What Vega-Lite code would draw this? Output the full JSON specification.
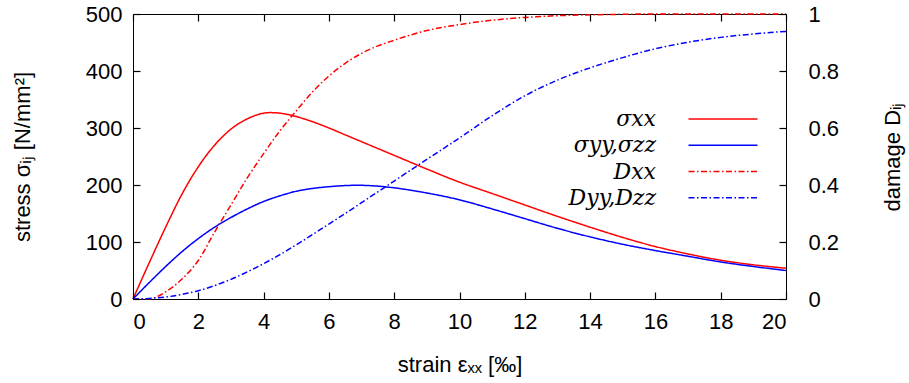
{
  "$schema": "https://vega.github.io/schema/vega-lite/v6.json",
  "width": 653,
  "height": 285,
  "autosize": {"type": "none"},
  "padding": {"left": 133, "top": 14, "right": 123, "bottom": 84},
  "background": "white",
  "config": {
    "font": "Liberation Sans",
    "view": {"stroke": "black", "strokeWidth": 1},
    "axis": {
      "labelFont": "Liberation Sans",
      "labelFontSize": 22,
      "labelColor": "black",
      "titleFont": "Liberation Sans",
      "titleFontSize": 22,
      "titleFontWeight": "normal",
      "titleColor": "black"
    }
  },
  "datasets": {
    "stress": [
      {"strain": 0, "series": "σxx", "value": 0},
      {"strain": 0.5, "series": "σxx", "value": 64},
      {"strain": 1, "series": "σxx", "value": 126},
      {"strain": 1.5, "series": "σxx", "value": 184},
      {"strain": 2, "series": "σxx", "value": 232},
      {"strain": 2.5, "series": "σxx", "value": 270},
      {"strain": 3, "series": "σxx", "value": 298},
      {"strain": 3.5, "series": "σxx", "value": 316},
      {"strain": 4, "series": "σxx", "value": 326},
      {"strain": 4.2, "series": "σxx", "value": 327},
      {"strain": 4.5, "series": "σxx", "value": 326},
      {"strain": 5, "series": "σxx", "value": 320},
      {"strain": 5.5, "series": "σxx", "value": 311},
      {"strain": 6, "series": "σxx", "value": 300},
      {"strain": 6.5, "series": "σxx", "value": 288},
      {"strain": 7, "series": "σxx", "value": 276},
      {"strain": 7.5, "series": "σxx", "value": 264},
      {"strain": 8, "series": "σxx", "value": 252},
      {"strain": 9, "series": "σxx", "value": 228},
      {"strain": 10, "series": "σxx", "value": 205},
      {"strain": 11, "series": "σxx", "value": 185},
      {"strain": 12, "series": "σxx", "value": 165},
      {"strain": 13, "series": "σxx", "value": 145},
      {"strain": 14, "series": "σxx", "value": 126},
      {"strain": 15, "series": "σxx", "value": 108},
      {"strain": 16, "series": "σxx", "value": 92},
      {"strain": 17, "series": "σxx", "value": 79},
      {"strain": 18, "series": "σxx", "value": 68},
      {"strain": 19, "series": "σxx", "value": 60},
      {"strain": 20, "series": "σxx", "value": 54},
      {"strain": 0, "series": "σyy,σzz", "value": 0},
      {"strain": 0.5, "series": "σyy,σzz", "value": 29},
      {"strain": 1, "series": "σyy,σzz", "value": 57},
      {"strain": 1.5, "series": "σyy,σzz", "value": 83},
      {"strain": 2, "series": "σyy,σzz", "value": 106},
      {"strain": 2.5, "series": "σyy,σzz", "value": 126},
      {"strain": 3, "series": "σyy,σzz", "value": 143},
      {"strain": 3.5, "series": "σyy,σzz", "value": 158},
      {"strain": 4, "series": "σyy,σzz", "value": 171},
      {"strain": 4.5, "series": "σyy,σzz", "value": 181},
      {"strain": 5, "series": "σyy,σzz", "value": 189},
      {"strain": 5.5, "series": "σyy,σzz", "value": 194},
      {"strain": 6, "series": "σyy,σzz", "value": 197},
      {"strain": 6.5, "series": "σyy,σzz", "value": 199},
      {"strain": 6.9, "series": "σyy,σzz", "value": 199.5},
      {"strain": 7.5, "series": "σyy,σzz", "value": 198},
      {"strain": 8, "series": "σyy,σzz", "value": 195},
      {"strain": 9, "series": "σyy,σzz", "value": 186},
      {"strain": 10, "series": "σyy,σzz", "value": 174},
      {"strain": 11, "series": "σyy,σzz", "value": 158},
      {"strain": 12, "series": "σyy,σzz", "value": 141},
      {"strain": 13, "series": "σyy,σzz", "value": 124},
      {"strain": 14, "series": "σyy,σzz", "value": 109},
      {"strain": 15, "series": "σyy,σzz", "value": 96},
      {"strain": 16, "series": "σyy,σzz", "value": 85},
      {"strain": 17, "series": "σyy,σzz", "value": 75},
      {"strain": 18, "series": "σyy,σzz", "value": 65},
      {"strain": 19, "series": "σyy,σzz", "value": 57},
      {"strain": 20, "series": "σyy,σzz", "value": 50}
    ],
    "damage": [
      {"strain": 0, "series": "Dxx", "value": 0},
      {"strain": 0.5, "series": "Dxx", "value": 0.001},
      {"strain": 1, "series": "Dxx", "value": 0.025},
      {"strain": 1.5, "series": "Dxx", "value": 0.07},
      {"strain": 2, "series": "Dxx", "value": 0.135},
      {"strain": 2.5, "series": "Dxx", "value": 0.235},
      {"strain": 3, "series": "Dxx", "value": 0.33},
      {"strain": 3.5, "series": "Dxx", "value": 0.425},
      {"strain": 4, "series": "Dxx", "value": 0.51},
      {"strain": 4.5, "series": "Dxx", "value": 0.59},
      {"strain": 5, "series": "Dxx", "value": 0.66},
      {"strain": 5.5, "series": "Dxx", "value": 0.727},
      {"strain": 6, "series": "Dxx", "value": 0.782},
      {"strain": 6.5, "series": "Dxx", "value": 0.827},
      {"strain": 7, "series": "Dxx", "value": 0.862},
      {"strain": 7.5, "series": "Dxx", "value": 0.888},
      {"strain": 8, "series": "Dxx", "value": 0.908},
      {"strain": 9, "series": "Dxx", "value": 0.942},
      {"strain": 10, "series": "Dxx", "value": 0.963},
      {"strain": 11, "series": "Dxx", "value": 0.978},
      {"strain": 12, "series": "Dxx", "value": 0.988},
      {"strain": 13, "series": "Dxx", "value": 0.994},
      {"strain": 14, "series": "Dxx", "value": 0.997},
      {"strain": 15, "series": "Dxx", "value": 0.999},
      {"strain": 16, "series": "Dxx", "value": 1.0},
      {"strain": 17, "series": "Dxx", "value": 1.0},
      {"strain": 18, "series": "Dxx", "value": 1.0},
      {"strain": 19, "series": "Dxx", "value": 1.0},
      {"strain": 20, "series": "Dxx", "value": 1.0},
      {"strain": 0, "series": "Dyy,Dzz", "value": 0},
      {"strain": 0.5, "series": "Dyy,Dzz", "value": 0.002},
      {"strain": 1, "series": "Dyy,Dzz", "value": 0.007},
      {"strain": 1.5, "series": "Dyy,Dzz", "value": 0.016},
      {"strain": 2, "series": "Dyy,Dzz", "value": 0.029},
      {"strain": 2.5, "series": "Dyy,Dzz", "value": 0.047},
      {"strain": 3, "series": "Dyy,Dzz", "value": 0.069},
      {"strain": 3.5, "series": "Dyy,Dzz", "value": 0.095},
      {"strain": 4, "series": "Dyy,Dzz", "value": 0.124},
      {"strain": 4.5, "series": "Dyy,Dzz", "value": 0.156},
      {"strain": 5, "series": "Dyy,Dzz", "value": 0.19},
      {"strain": 5.5, "series": "Dyy,Dzz", "value": 0.226},
      {"strain": 6, "series": "Dyy,Dzz", "value": 0.263},
      {"strain": 6.5, "series": "Dyy,Dzz", "value": 0.3},
      {"strain": 7, "series": "Dyy,Dzz", "value": 0.338},
      {"strain": 7.5, "series": "Dyy,Dzz", "value": 0.376},
      {"strain": 8, "series": "Dyy,Dzz", "value": 0.414},
      {"strain": 9, "series": "Dyy,Dzz", "value": 0.49},
      {"strain": 10, "series": "Dyy,Dzz", "value": 0.565},
      {"strain": 11, "series": "Dyy,Dzz", "value": 0.643},
      {"strain": 12, "series": "Dyy,Dzz", "value": 0.713},
      {"strain": 13, "series": "Dyy,Dzz", "value": 0.768},
      {"strain": 14, "series": "Dyy,Dzz", "value": 0.811},
      {"strain": 15, "series": "Dyy,Dzz", "value": 0.847},
      {"strain": 16, "series": "Dyy,Dzz", "value": 0.878},
      {"strain": 17, "series": "Dyy,Dzz", "value": 0.901},
      {"strain": 18, "series": "Dyy,Dzz", "value": 0.918},
      {"strain": 19, "series": "Dyy,Dzz", "value": 0.93},
      {"strain": 20, "series": "Dyy,Dzz", "value": 0.939}
    ]
  },
  "layer": [
    {
      "data": {"name": "stress"},
      "mark": {"type": "line", "strokeWidth": 1.5, "interpolate": "monotone"},
      "encoding": {
        "x": {
          "field": "strain", "type": "quantitative",
          "scale": {"domain": [0, 20], "nice": false},
          "axis": {"orient": "bottom", "values": [0,2,4,6,8,10,12,14,16,18,20], "zindex": 1, "grid": false, "domain": false, "tickSize": -7, "tickWidth": 1.2, "tickColor": "black", "labelPadding": 19, "title": "strain εₓₓ [‰]", "titlePadding": 22}
        },
        "y": {
          "field": "value", "type": "quantitative",
          "scale": {"domain": [0, 500], "nice": false},
          "axis": {"orient": "left", "values": [0,100,200,300,400,500], "zindex": 1, "grid": false, "domain": false, "tickSize": -7, "tickWidth": 1.2, "tickColor": "black", "labelPadding": 18, "title": "stress σᵢⱼ [N/mm²]", "titlePadding": 51}
        },
        "color": {
          "field": "series", "type": "nominal",
          "scale": {"domain": ["σxx", "σyy,σzz", "Dxx", "Dyy,Dzz"], "range": ["#ff0000", "#0000ff", "#ff0000", "#0000ff"]},
          "legend": {"orient": "none", "legendX": 579, "legendY": 94, "title": null, "symbolType": "M-4,0H4", "symbolSize": 297.6, "symbolStrokeWidth": 1.5, "rowPadding": 4.25, "labelAlign": "right", "labelOffset": -78, "labelFont": "DejaVu Serif", "labelFontStyle": "italic", "labelFontSize": 22, "labelColor": "black", "labelLimit": 300}
        },
        "strokeDash": {
          "field": "series", "type": "nominal",
          "scale": {"domain": ["σxx", "σyy,σzz", "Dxx", "Dyy,Dzz"], "range": [[1, 0], [1, 0], [6, 2.5, 1.5, 2.5], [6, 2.5, 1.5, 2.5]]},
          "legend": {"orient": "none", "legendX": 579, "legendY": 94, "title": null, "symbolType": "M-4,0H4", "symbolSize": 297.6, "symbolStrokeWidth": 1.5, "rowPadding": 4.25, "labelAlign": "right", "labelOffset": -78, "labelFont": "DejaVu Serif", "labelFontStyle": "italic", "labelFontSize": 22, "labelColor": "black", "labelLimit": 300}
        }
      }
    },
    {
      "data": {"name": "damage"},
      "mark": {"type": "line", "strokeWidth": 1.5, "interpolate": "monotone"},
      "encoding": {
        "x": {
          "field": "strain", "type": "quantitative",
          "scale": {"domain": [0, 20], "nice": false},
          "axis": {"orient": "top", "values": [0,2,4,6,8,10,12,14,16,18,20], "zindex": 1, "grid": false, "domain": false, "tickSize": -7, "tickWidth": 1.2, "tickColor": "black", "labels": false, "title": null}
        },
        "y": {
          "field": "value", "type": "quantitative",
          "scale": {"domain": [0, 1], "nice": false},
          "axis": {"orient": "right", "values": [0,0.2,0.4,0.6,0.8,1], "format": "~g", "zindex": 1, "grid": false, "domain": false, "tickSize": -7, "tickWidth": 1.2, "tickColor": "black", "labelPadding": 29, "title": "damage Dᵢⱼ", "titleAngle": 270, "titlePadding": 66}
        },
        "color": {
          "field": "series", "type": "nominal",
          "scale": {"domain": ["σxx", "σyy,σzz", "Dxx", "Dyy,Dzz"], "range": ["#ff0000", "#0000ff", "#ff0000", "#0000ff"]}
        },
        "strokeDash": {
          "field": "series", "type": "nominal",
          "scale": {"domain": ["σxx", "σyy,σzz", "Dxx", "Dyy,Dzz"], "range": [[1, 0], [1, 0], [6, 2.5, 1.5, 2.5], [6, 2.5, 1.5, 2.5]]}
        }
      }
    }
  ],
  "resolve": {"scale": {"y": "independent"}, "axis": {"x": "independent", "y": "independent"}}
}
